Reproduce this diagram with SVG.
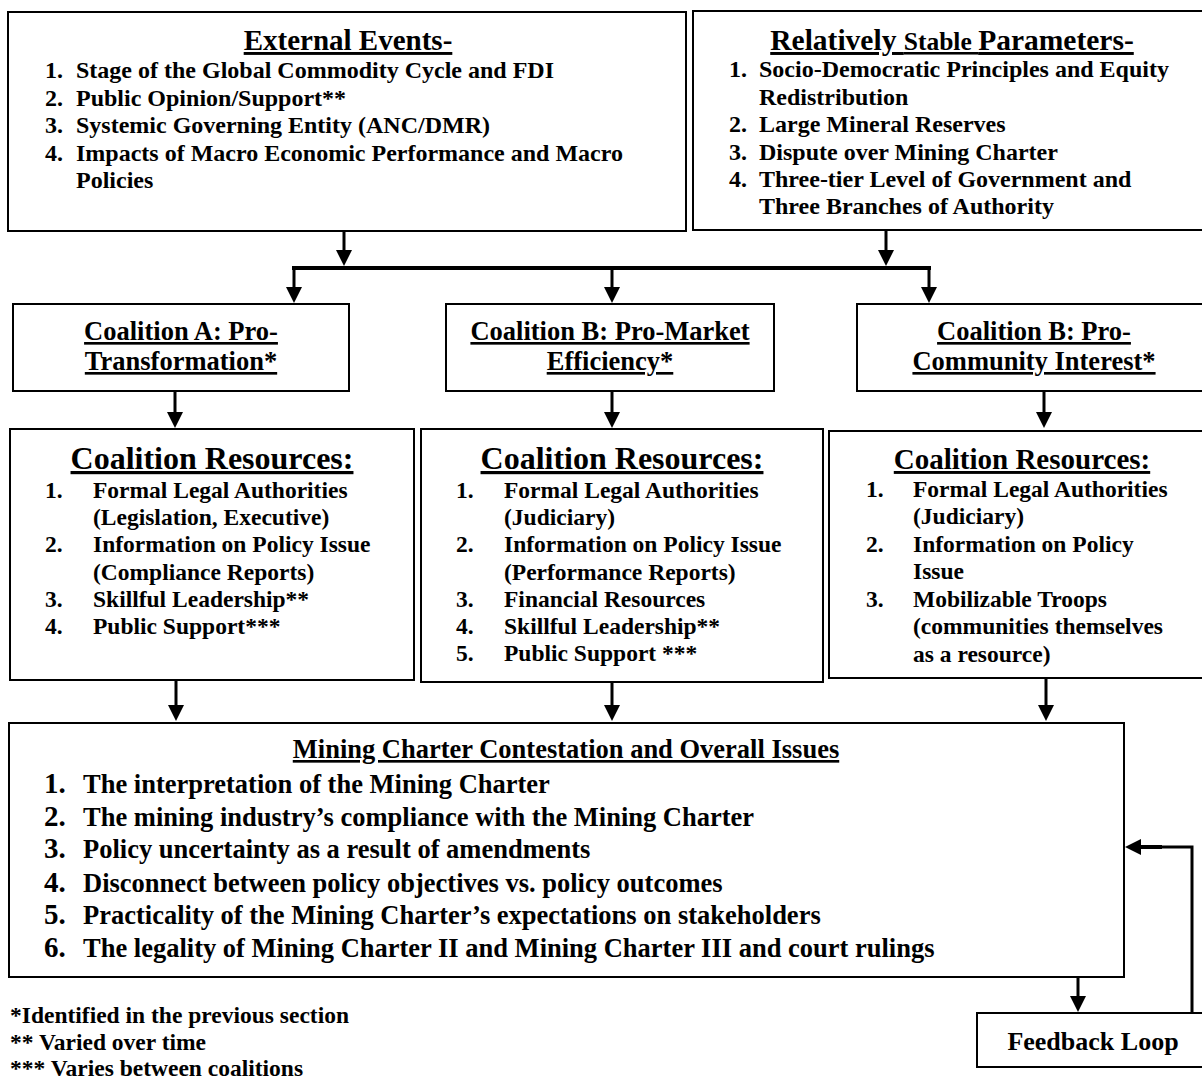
<svg xmlns="http://www.w3.org/2000/svg" width="1202" height="1079" viewBox="0 0 1202 1079">
<style>
  text { font-family: "Liberation Serif", "Times New Roman", serif; font-weight: bold; fill: #000; }
  .box { fill: #fff; stroke: #000; stroke-width: 2; }
  .t1 { font-size: 29px; text-decoration: underline; }
  .it { font-size: 24px; }
  .ct { font-size: 26.5px; text-decoration: underline; }
  .rt { font-size: 32px; text-decoration: underline; }
  .ri { font-size: 23.5px; }
  .bt { font-size: 26.5px; text-decoration: underline; }
  .bn { font-size: 29px; }
  .bi { font-size: 26.5px; }
  .fn { font-size: 23.5px; }
  .mid { text-anchor: middle; }
  .c3 { stroke: #000; stroke-width: 3; fill: none; }
  .c4 { stroke: #000; stroke-width: 4; fill: none; }
</style>
<defs>
  <marker id="ah" viewBox="0 0 16 16" refX="8" refY="8" markerWidth="16" markerHeight="16" markerUnits="userSpaceOnUse" orient="auto">
    <path d="M0,0 L16,8 L0,16 z" fill="#000"/>
  </marker>
</defs>
<rect width="1202" height="1079" fill="#fff"/>

<g id="external-events">
  <rect class="box" x="8" y="12" width="678" height="219"/>
  <text class="t1 mid" x="348" y="50">External Events-</text>
  <text class="it" x="45" y="78">1.</text><text class="it" x="76" y="78">Stage of the Global Commodity Cycle and FDI</text>
  <text class="it" x="45" y="106">2.</text><text class="it" x="76" y="106">Public Opinion/Support**</text>
  <text class="it" x="45" y="133">3.</text><text class="it" x="76" y="133">Systemic Governing Entity (ANC/DMR)</text>
  <text class="it" x="45" y="161">4.</text><text class="it" x="76" y="161">Impacts of Macro Economic Performance and Macro</text>
  <text class="it" x="76" y="188">Policies</text>
</g>

<g id="stable-parameters">
  <rect class="box" x="693" y="11" width="520" height="219"/>
  <text class="mid" x="952" y="50" style="text-decoration: underline;"><tspan font-size="29.5">Relatively </tspan><tspan font-size="25.5">Stable </tspan><tspan font-size="29.5">Parameters-</tspan></text>
  <text class="it" x="729" y="77">1.</text><text class="it" x="759" y="77">Socio-Democratic Principles and Equity</text>
  <text class="it" x="759" y="105">Redistribution</text>
  <text class="it" x="729" y="132">2.</text><text class="it" x="759" y="132">Large Mineral Reserves</text>
  <text class="it" x="729" y="160">3.</text><text class="it" x="759" y="160">Dispute over Mining Charter</text>
  <text class="it" x="729" y="187">4.</text><text class="it" x="759" y="187">Three-tier Level of Government and</text>
  <text class="it" x="759" y="214">Three Branches of Authority</text>
</g>

<g id="coalition-a">
  <rect class="box" x="13" y="304" width="336" height="87"/>
  <text class="ct mid" x="181" y="340">Coalition A: Pro-</text>
  <text class="ct mid" x="181" y="370">Transformation*</text>
</g>

<g id="coalition-b">
  <rect class="box" x="446" y="304" width="328" height="87"/>
  <text class="ct mid" x="610" y="340">Coalition B: Pro-Market</text>
  <text class="ct mid" x="610" y="370">Efficiency*</text>
</g>

<g id="coalition-c">
  <rect class="box" x="857" y="304" width="360" height="87"/>
  <text class="ct mid" x="1034" y="340">Coalition B: Pro-</text>
  <text class="ct mid" x="1034" y="370">Community Interest*</text>
</g>

<g id="resources-a">
  <rect class="box" x="10" y="429" width="404" height="251"/>
  <text class="rt mid" x="212" y="469">Coalition Resources:</text>
  <text class="ri" x="45" y="498">1.</text><text class="ri" x="93" y="498">Formal Legal Authorities</text>
  <text class="ri" x="93" y="525">(Legislation, Executive)</text>
  <text class="ri" x="45" y="552">2.</text><text class="ri" x="93" y="552">Information on Policy Issue</text>
  <text class="ri" x="93" y="580">(Compliance Reports)</text>
  <text class="ri" x="45" y="607">3.</text><text class="ri" x="93" y="607">Skillful Leadership**</text>
  <text class="ri" x="45" y="634">4.</text><text class="ri" x="93" y="634">Public Support***</text>
</g>

<g id="resources-b">
  <rect class="box" x="421" y="429" width="402" height="253"/>
  <text class="rt mid" x="622" y="469">Coalition Resources:</text>
  <text class="ri" x="456" y="498">1.</text><text class="ri" x="504" y="498">Formal Legal Authorities</text>
  <text class="ri" x="504" y="525">(Judiciary)</text>
  <text class="ri" x="456" y="552">2.</text><text class="ri" x="504" y="552">Information on Policy Issue</text>
  <text class="ri" x="504" y="580">(Performance Reports)</text>
  <text class="ri" x="456" y="607">3.</text><text class="ri" x="504" y="607">Financial Resources</text>
  <text class="ri" x="456" y="634">4.</text><text class="ri" x="504" y="634">Skillful Leadership**</text>
  <text class="ri" x="456" y="661">5.</text><text class="ri" x="504" y="661">Public Support ***</text>
</g>

<g id="resources-c">
  <rect class="box" x="829" y="431" width="385" height="247"/>
  <text class="rt mid" x="1022" y="469" style="font-size:29px">Coalition Resources:</text>
  <text class="ri" x="866" y="497">1.</text><text class="ri" x="913" y="497">Formal Legal Authorities</text>
  <text class="ri" x="913" y="524">(Judiciary)</text>
  <text class="ri" x="866" y="552">2.</text><text class="ri" x="913" y="552">Information on Policy</text>
  <text class="ri" x="913" y="579">Issue</text>
  <text class="ri" x="866" y="607">3.</text><text class="ri" x="913" y="607">Mobilizable Troops</text>
  <text class="ri" x="913" y="634">(communities themselves</text>
  <text class="ri" x="913" y="662">as a resource)</text>
</g>

<g id="contestation">
  <rect class="box" x="9" y="723" width="1115" height="254"/>
  <text class="bt mid" x="566" y="758">Mining Charter Contestation and Overall Issues</text>
  <text class="bn" x="44" y="793">1.</text><text class="bi" x="83" y="793">The interpretation of the Mining Charter</text>
  <text class="bn" x="44" y="826">2.</text><text class="bi" x="83" y="826">The mining industry’s compliance with the Mining Charter</text>
  <text class="bn" x="44" y="858">3.</text><text class="bi" x="83" y="858">Policy uncertainty as a result of amendments</text>
  <text class="bn" x="44" y="892">4.</text><text class="bi" x="83" y="892">Disconnect between policy objectives vs. policy outcomes</text>
  <text class="bn" x="44" y="924">5.</text><text class="bi" x="83" y="924">Practicality of the Mining Charter’s expectations on stakeholders</text>
  <text class="bn" x="44" y="957">6.</text><text class="bi" x="83" y="957">The legality of Mining Charter II and Mining Charter III and court rulings</text>
</g>

<g id="feedback-loop">
  <rect class="box" x="977" y="1013" width="235" height="54"/>
  <text class="mid" x="1093" y="1050" style="font-size:26px">Feedback Loop</text>
</g>

<g id="footnotes">
  <text class="fn" x="10" y="1023">*Identified in the previous section</text>
  <text class="fn" x="10" y="1050">** Varied over time</text>
  <text class="fn" x="10" y="1076">*** Varies between coalitions</text>
</g>

<g id="connectors">
  <line class="c3" x1="344" y1="231" x2="344" y2="258" marker-end="url(#ah)"/>
  <line class="c3" x1="886" y1="230" x2="886" y2="258" marker-end="url(#ah)"/>
  <line class="c4" x1="292" y1="268" x2="931" y2="268"/>
  <line class="c3" x1="294" y1="266" x2="294" y2="295" marker-end="url(#ah)"/>
  <line class="c3" x1="612" y1="266" x2="612" y2="295" marker-end="url(#ah)"/>
  <line class="c3" x1="929" y1="266" x2="929" y2="295" marker-end="url(#ah)"/>
  <line class="c3" x1="175" y1="391" x2="175" y2="420" marker-end="url(#ah)"/>
  <line class="c3" x1="612" y1="391" x2="612" y2="420" marker-end="url(#ah)"/>
  <line class="c3" x1="1044" y1="391" x2="1044" y2="420" marker-end="url(#ah)"/>
  <line class="c3" x1="176" y1="681" x2="176" y2="713" marker-end="url(#ah)"/>
  <line class="c3" x1="612" y1="683" x2="612" y2="713" marker-end="url(#ah)"/>
  <line class="c3" x1="1046" y1="679" x2="1046" y2="713" marker-end="url(#ah)"/>
  <line class="c3" x1="1078" y1="977" x2="1078" y2="1004" marker-end="url(#ah)"/>
  <polyline class="c3" points="1192,1013 1192,847 1160,847"/>
  <line class="c4" x1="1162" y1="847" x2="1133" y2="847" marker-end="url(#ah)"/>
</g>
</svg>
